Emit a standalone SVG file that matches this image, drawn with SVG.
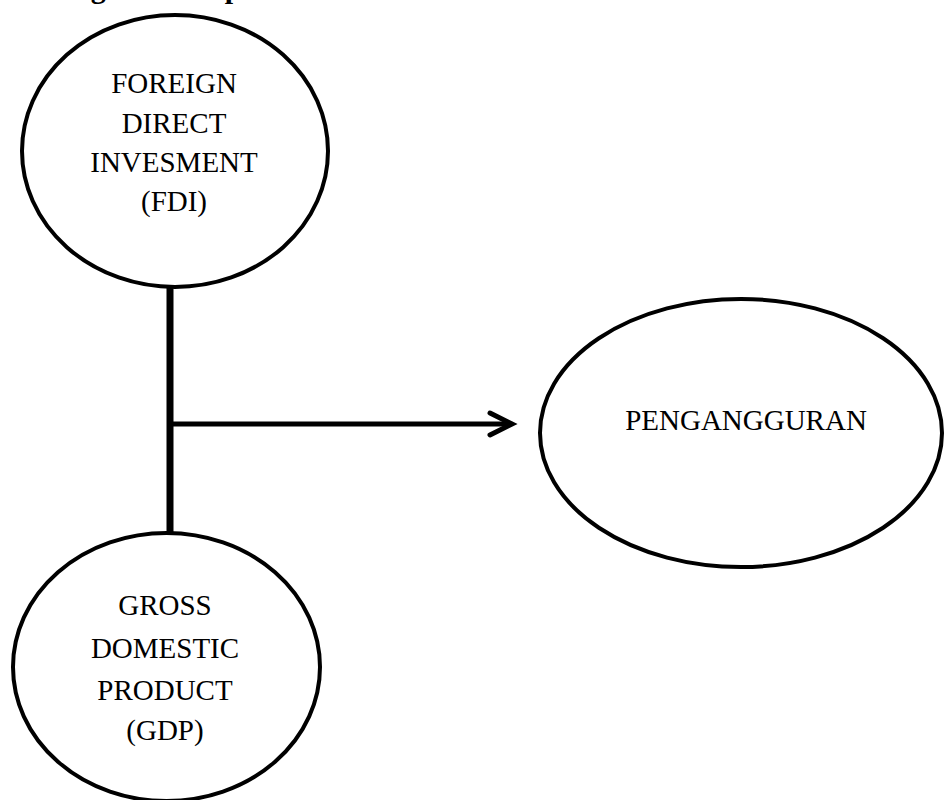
<svg xmlns="http://www.w3.org/2000/svg" width="944" height="800" viewBox="0 0 944 800">
<style>
  .node { fill: #ffffff; stroke: #000000; stroke-width: 4; }
  .label { font-family: "Liberation Serif", "Times New Roman", serif; font-size: 29px; fill: #000000; text-anchor: middle; }
  .title { font-family: "Liberation Serif", "Times New Roman", serif; font-size: 30px; font-weight: bold; fill: #000000; }
  .conn { stroke: #000000; fill: none; }
</style>
<defs>
  <marker id="arrow" viewBox="0 0 10 10" refX="9" refY="5" markerWidth="6" markerHeight="6" markerUnits="userSpaceOnUse" orient="auto">
    <path d="M0,0 L9,5 L0,10" fill="none" stroke="#000"/>
  </marker>
</defs>
<rect width="944" height="800" fill="#ffffff"/>
<text class="title" x="9" y="-2">Kerangka Konseptual</text>

<g id="connectors">
  <line class="conn" x1="170" y1="287" x2="170" y2="533" stroke-width="7"/>
  <line class="conn" x1="170" y1="424" x2="510" y2="424" stroke-width="5"/>
  <polyline class="conn" points="490,413 512,424 490,435" stroke-width="5" stroke-linecap="round" stroke-linejoin="miter"/>
</g>

<g id="node-fdi">
  <ellipse class="node" cx="175" cy="151" rx="153" ry="136"/>
  <text class="label" x="174" y="93">FOREIGN</text>
  <text class="label" x="174" y="133">DIRECT</text>
  <text class="label" x="174" y="172">INVESMENT</text>
  <text class="label" x="174" y="211">(FDI)</text>
</g>

<g id="node-pengangguran">
  <ellipse class="node" cx="741" cy="433" rx="201" ry="134"/>
  <text class="label" x="746" y="430">PENGANGGURAN</text>
</g>

<g id="node-gdp">
  <ellipse class="node" cx="166.5" cy="667" rx="153.5" ry="134"/>
  <text class="label" x="165" y="615">GROSS</text>
  <text class="label" x="165" y="658">DOMESTIC</text>
  <text class="label" x="165" y="700">PRODUCT</text>
  <text class="label" x="165" y="740">(GDP)</text>
</g>
</svg>
